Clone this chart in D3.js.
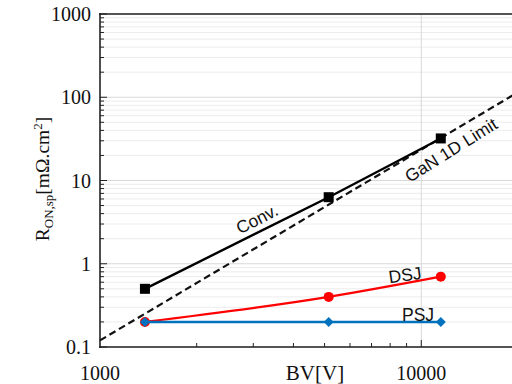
<!DOCTYPE html>
<html><head><meta charset="utf-8">
<script src="https://cdn.jsdelivr.net/npm/d3@7"></script>
<style>body{margin:0;background:#fff}svg{display:block}</style>
</head><body><svg id="c" width="512" height="384"></svg>
<script>
const bv = [1380, 5150, 11500];
const conv = [0.5, 6.3, 32];
const dsj = [0.2, 0.4, 0.7];
const psj = [0.2, 0.2, 0.2];
const limitBV = [1000, 20000];
const limitR = [0.12, 115];
const yTickLabels = ["0.1", "1", "10", "100", "1000"];
const xTickLabels = ["1000", "10000"];

const svg = d3.select("#c");
const x = d3.scaleLog().domain([1000, 20000]).range([100, 518]);
const y = d3.scaleLog().domain([0.1, 1000]).range([347, 14]);

// grid
const minorY = [];
for (let d = 0.1; d < 1000; d *= 10) for (let k = 1; k < 10; k++) minorY.push(+(d * k).toPrecision(3));
minorY.push(1000);
const g = svg.append("g");
g.selectAll("line.gy").data(minorY).join("line")
  .attr("x1", 100).attr("x2", 512)
  .attr("y1", d => y(d)).attr("y2", d => y(d))
  .attr("stroke", d => yTickLabels.includes(String(d)) ? "#d8d8d8" : "#ececec").attr("stroke-width", 1);
g.append("line").attr("x1", x(10000)).attr("x2", x(10000)).attr("y1", 14).attr("y2", 347)
  .attr("stroke", "#d8d8d8").attr("stroke-width", 1);

// ticks
svg.selectAll(null).data(minorY).enter().append("line")
  .attr("x1", 100).attr("x2", d => 100 + (yTickLabels.includes(String(d)) ? 7 : 4))
  .attr("y1", d => y(d)).attr("y2", d => y(d)).attr("stroke", "#222").attr("stroke-width", 1);
const minorX = [];
for (let k = 2; k <= 20; k++) { if (k < 10) minorX.push(k * 1000); else if (k % 10 === 0) minorX.push(k * 1000); }
svg.selectAll(null).data(minorX).enter().append("line")
  .attr("x1", d => x(d)).attr("x2", d => x(d))
  .attr("y1", 347).attr("y2", d => 347 - (d === 10000 ? 7 : 4)).attr("stroke", "#222").attr("stroke-width", 1);

svg.append("line").attr("x1", 100).attr("x2", 100).attr("y1", 13).attr("y2", 348).attr("stroke", "#222").attr("stroke-width", 1.6);
svg.append("line").attr("x1", 99).attr("x2", 512).attr("y1", 347).attr("y2", 347).attr("stroke", "#222").attr("stroke-width", 1.6);
svg.append("line").attr("x1", 99).attr("x2", 512).attr("y1", 14).attr("y2", 14).attr("stroke", "#222").attr("stroke-width", 1.6);

// tick labels
svg.selectAll("text.yt").data(yTickLabels).join("text")
  .attr("x", 91).attr("y", d => y(+d)).attr("dy", "0.35em").attr("text-anchor", "end")
  .attr("font-family", "Liberation Serif").attr("font-size", 20).attr("fill", "#111").text(d => d);
svg.selectAll("text.xt").data(xTickLabels).join("text")
  .attr("x", d => x(+d)).attr("y", 380).attr("text-anchor", "middle")
  .attr("font-family", "Liberation Serif").attr("font-size", 20).attr("fill", "#111").text(d => d);

// axis titles
svg.append("text").attr("x", 315).attr("y", 380).attr("text-anchor", "middle")
  .attr("font-family", "Liberation Serif").attr("font-size", 21).attr("fill", "#111").text("BV[V]");
const yt = svg.append("text").attr("transform", "translate(49,179) rotate(-90)").attr("text-anchor", "middle")
  .attr("font-family", "Liberation Serif").attr("font-size", 19.5).attr("fill", "#111");
yt.append("tspan").text("R");
yt.append("tspan").attr("font-size", 13).attr("dy", 4).text("ON,sp");
yt.append("tspan").attr("dy", -4).text("[mΩ.cm");
yt.append("tspan").attr("font-size", 13).attr("dy", -7).text("2");
yt.append("tspan").attr("dy", 7).text("]");

// lines
const plot = svg.append("g");
const lim = limitBV.map((b, i) => [b, limitR[i]]);
plot.append("path").datum(lim).attr("d", d3.line().x(d => x(d[0])).y(d => y(d[1])))
  .attr("fill", "none").attr("stroke", "#111").attr("stroke-width", 2.2).attr("stroke-dasharray", "7,4");

const pts = arr => bv.map((b, i) => [b, arr[i]]);
plot.append("path").datum(pts(conv)).attr("d", d3.line().x(d => x(d[0])).y(d => y(d[1])))
  .attr("fill", "none").attr("stroke", "#000").attr("stroke-width", 2.4);
plot.selectAll("rect.cv").data(pts(conv)).join("rect")
  .attr("x", d => x(d[0]) - 5).attr("y", d => y(d[1]) - 5).attr("width", 10).attr("height", 10).attr("fill", "#000");

plot.append("path").datum(pts(dsj)).attr("d", d3.line().curve(d3.curveMonotoneX).x(d => x(d[0])).y(d => y(d[1])))
  .attr("fill", "none").attr("stroke", "#ff0000").attr("stroke-width", 2.4);
plot.selectAll("circle.ds").data(pts(dsj)).join("circle")
  .attr("cx", d => x(d[0])).attr("cy", d => y(d[1])).attr("r", 5).attr("fill", "#ff0000");

plot.append("path").datum(pts(psj)).attr("d", d3.line().x(d => x(d[0])).y(d => y(d[1])))
  .attr("fill", "none").attr("stroke", "#0072bd").attr("stroke-width", 2.6);
plot.selectAll("path.ps").data(pts(psj)).join("path")
  .attr("transform", d => `translate(${x(d[0])},${y(d[1])})`)
  .attr("d", "M0,-5L5,0L0,5L-5,0Z").attr("fill", "#0072bd");

// annotations
const ann = (t, cx, cy, rot) => svg.append("text").attr("transform", `translate(${cx},${cy}) rotate(${rot})`)
  .attr("text-anchor", "middle").attr("dy", "0.35em").attr("font-family", "Liberation Sans").attr("font-size", 17.5)
  .attr("fill", "#111").text(t);
ann("Conv.", 257, 219, -27);
ann("GaN 1D Limit", 451, 150, -32);
ann("DSJ", 405, 275, -8);
ann("PSJ", 418, 315, 0);
</script></body></html>
